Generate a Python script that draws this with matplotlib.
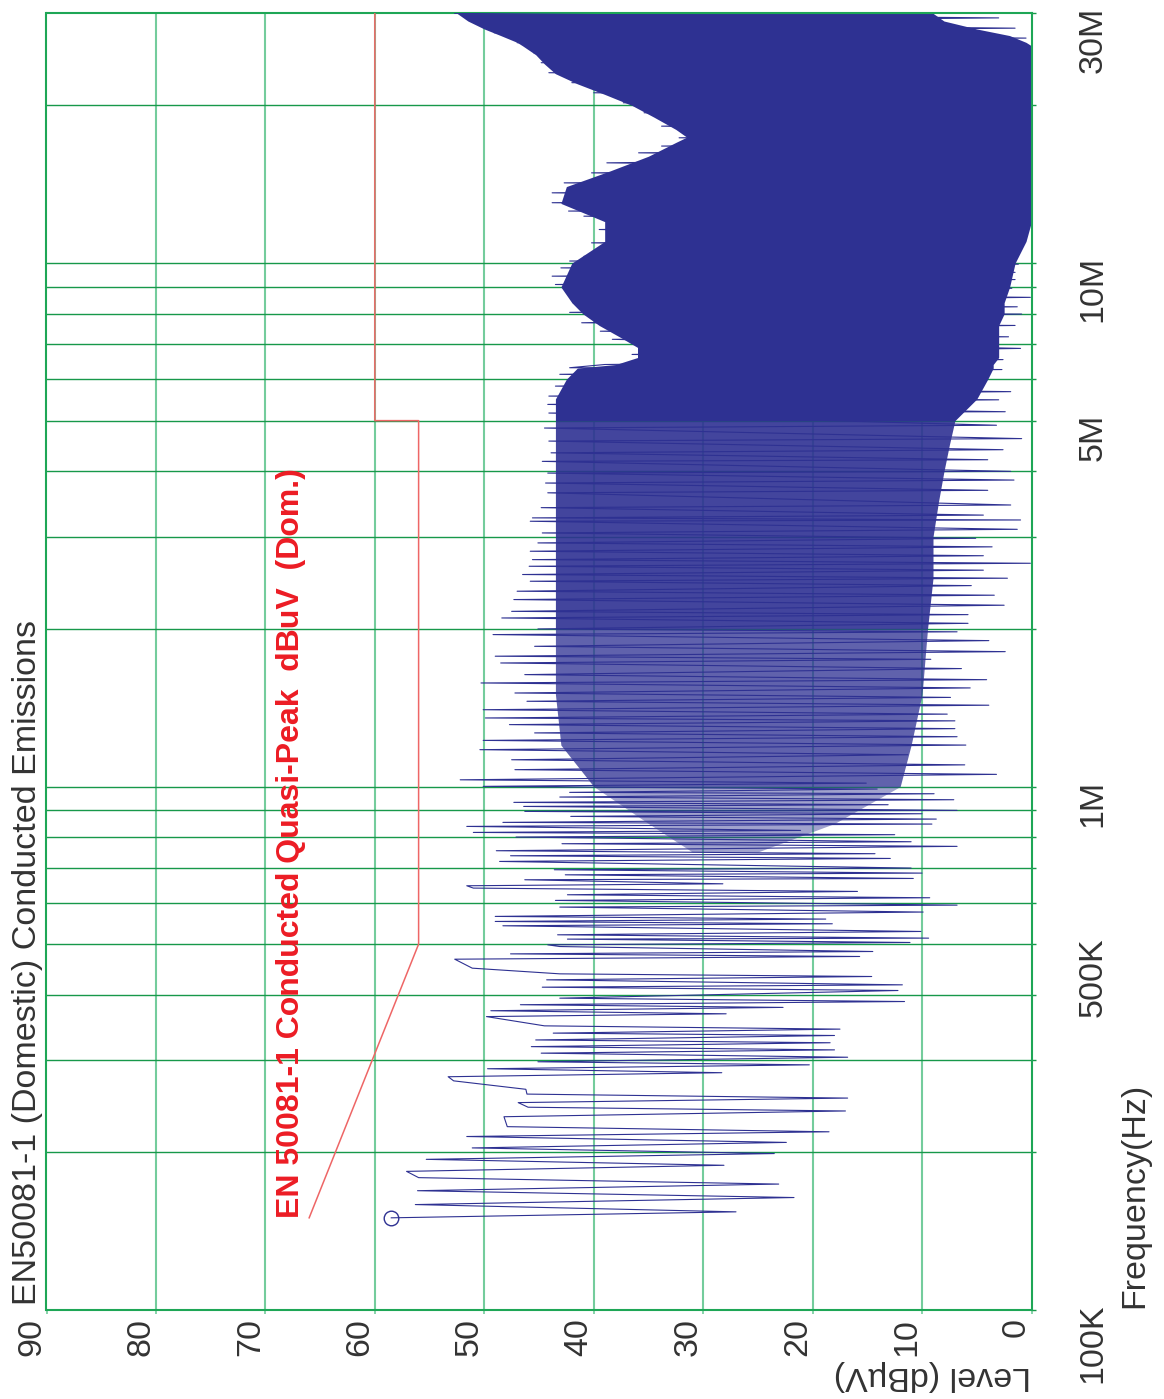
import matplotlib
matplotlib.use("Agg")
import matplotlib.pyplot as plt
import numpy as np
from matplotlib import font_manager
from matplotlib.transforms import ScaledTranslation

# ---------------- data ----------------
# sparse part of the scan (kHz, dBuV) in trace order
scan_khz = [150, 154, 159, 164, 169, 174, 179, 184, 189, 194,
            199, 204, 209, 214.5, 219, 224, 234, 240, 244, 249,
            254, 258.5, 264, 274, 279, 284, 289, 294, 298, 304,
            309.5, 314, 318.5, 324, 328, 334.5, 338, 344, 349, 363.5,
            368, 373, 378.5, 383, 388.4, 394.2, 407.7, 413.7, 418, 427.3,
            433.6, 438.7, 449.8, 467.9, 473.5, 479, 484, 494.7, 498.4, 503.6,
            511.1, 513.3, 520.9, 528.6, 542, 546.8, 552.4, 558.2, 564.8, 575.7,
            588.4, 593.5, 606, 613.1, 621.2, 630.4, 639.7, 646.3, 651.9, 663.6,
            667.4, 678.2, 683.3, 693.5, 698.6, 719.3, 728.8, 737.5, 744.2, 754,
            768.6, 777.6, 784.4, 800.7, 809.1, 817.2, 824.4, 839.1, 847.8, 854.1,
            866.6, 876.9, 887.2, 896.4, 900.4, 916.2, 923.1, 932.7, 943.6, 954.8,
            968.8, 974.6, 989, 1000.7]
scan_db = [58.5, 27.0, 56.3, 21.7, 56.1, 23.1, 56.0, 57.1, 28.1, 55.3,
           23.5, 51.1, 22.4, 51.6, 18.5, 47.9, 48.2, 17.0, 46.0, 46.9,
           16.8, 46.1, 46.2, 52.8, 53.3, 28.3, 49.7, 20.3, 45.1, 16.8,
           44.8, 18.0, 45.7, 18.4, 45.3, 18.0, 43.7, 17.5, 44.5, 49.8,
           27.9, 49.4, 22.7, 46.7, 11.6, 43.1, 12.2, 44.7, 11.8, 44.3,
           14.6, 43.1, 51.1, 52.7, 15.7, 47.6, 14.5, 43.1, 44.2, 11.1,
           42.4, 9.4, 43.3, 10.1, 48.3, 18.2, 49.0, 18.8, 49.0, 9.9,
           43.1, 6.8, 43.5, 9.3, 42.4, 15.9, 51.0, 51.6, 28.2, 46.3,
           10.8, 42.6, 10.0, 43.6, 11.0, 48.6, 12.9, 47.6, 14.3, 48.9,
           6.8, 42.9, 11.0, 47.1, 12.5, 51.0, 21.1, 51.6, 9.1, 48.3,
           8.7, 42.1, 10.0, 46.3, 6.8, 46.4, 13.1, 47.3, 7.1, 43.1,
           8.9, 42.2, 14.1, 50.1]

# dense part of the scan: alternating peaks / troughs (MHz, dBuV)
dense_mhz = [1.015, 1.030, 1.055, 1.077, 1.10, 1.125, 1.15, 1.176, 1.20, 1.225,
             1.245, 1.266, 1.29, 1.313, 1.335, 1.352, 1.375, 1.402, 1.43, 1.455,
             1.48, 1.509, 1.543, 1.577, 1.60, 1.636, 1.68, 1.722, 1.75, 1.774,
             1.81, 1.853, 1.90, 1.951, 1.975, 2.00, 2.05, 2.099, 2.13, 2.161,
             2.22, 2.276, 2.32, 2.361, 2.42, 2.467, 2.50, 2.541, 2.59, 2.635,
             2.67, 2.713, 2.76, 2.815, 2.87, 2.92, 2.98, 3.051, 3.10, 3.212,
             3.23, 3.26, 3.30, 3.41, 3.45, 3.64, 3.68, 3.80, 3.85, 3.97,
             4.00, 4.18, 4.21, 4.34, 4.40, 4.57, 4.62, 4.84, 4.90, 5.17,
             5.20, 5.37, 5.48, 5.57, 5.68, 5.82, 5.98, 6.13, 6.26, 6.31,
             6.40, 6.54, 6.69, 6.87, 7.15, 7.23, 7.41, 7.60, 7.69, 7.99,
             8.05, 8.25, 8.40, 8.60, 8.78, 8.95, 9.10, 9.30, 9.44, 9.60,
             9.79, 9.95, 10.09, 10.2, 10.3, 10.6, 10.93, 11.2, 11.59, 11.9,
             12.29, 12.4, 12.57, 12.8, 13.04, 13.3, 13.62, 13.9, 14.23, 14.5,
             14.87, 15.2, 15.54, 15.9, 16.24, 16.5, 16.73, 17.0, 17.35, 17.8,
             18.26, 18.8, 19.37, 19.8, 20.24, 20.7, 21.15, 21.6, 22.11, 22.6,
             23.1, 23.6, 24.14, 24.7, 25.22, 25.8, 26.36, 26.9, 27.54, 28.1,
             28.78, 29.4, 29.99]
dense_db = [15.1, 52.2, 3.2, 47.2, 6.1, 47.5, 11.3, 50.4, 6.0, 50.1,
            6.8, 45.4, 7.0, 47.7, 7.0, 49.9, 7.7, 50.1, 3.9, 46.1,
            7.4, 47.2, 5.6, 50.3, 4.1, 46.3, 6.4, 48.5, 9.2, 49.0,
            2.4, 45.4, 3.9, 49.2, 6.8, 45.1, 5.8, 48.4, 5.8, 47.5,
            2.5, 47.3, 3.4, 47.0, 5.5, 45.8, 2.2, 46.5, 4.4, 45.9,
            0.1, 45.6, 4.4, 45.8, 3.6, 45.1, 5.1, 44.7, 1.3, 45.8,
            1.0, 45.6, 4.4, 44.8, 1.9, 44.2, 4.0, 44.4, 1.6, 44.2,
            1.9, 44.7, 4.0, 43.9, 2.6, 44.1, 0.9, 44.5, 3.2, 44.1,
            2.4, 44.2, 3.0, 44.1, 1.9, 43.5, 4.3, 43.1, 2.7, 42.2,
            39.0, 2.6, 36.5, 1.0, 38.3, 2.1, 39.4, 1.5, 41.1, 0.9,
            42.2, 1.3, 41.9, 0.1, 42.5, 1.8, 43.5, 1.5, 43.8, 1.5,
            43.0, 1.2, 42.2, 2.0, 40.9, 1.5, 40.2, 1.0, 39.5, 0.5,
            40.9, 0.3, 42.3, 0.2, 43.8, 0.2, 43.8, 0.2, 42.7, 0.2,
            40.2, 0.2, 38.8, 0.2, 35.9, 0.2, 33.8, 0.2, 32.2, 0.2,
            33.8, 0.2, 35.4, 0.2, 37.3, 0.2, 40.0, 0.2, 42.0, 0.2,
            44.1, 0.2, 44.8, 0.2, 45.5, 0.2, 47.0, 0.5, 49.1, 1.5,
            50.9, 3.0, 52.7]

# solid core of the dense band (MHz, dBuV)
core_mhz = [0.75, 0.85, 1.0, 1.2, 1.5, 2.0, 2.5, 3.0, 3.5, 4.0, 4.5, 5.0,
            5.5, 6.0, 6.3, 6.4, 6.6, 6.9, 7.2, 7.6, 8.0, 8.4,
            9.0, 10.0, 11.0, 12.0, 13.0, 14.0, 15.0, 16.0, 17.0, 17.4,
            18.0, 19.0, 20.0, 21.0, 22.0, 23.0, 24.0, 25.0, 26.0, 26.4,
            27.2, 28.0, 29.0, 30.0]
core_top = [31, 35, 40, 43, 43.5, 43.5, 43.5, 43.5, 43.5, 43.5, 43.5, 43.5,
            43.5, 42.5, 41.5, 38, 36, 36, 37.5, 39.5, 41, 42,
            43, 42, 39, 39, 43, 42.5, 38.5, 35, 32.5, 31.5,
            32.5, 34.5, 36.5, 39, 41.5, 43.5, 44.5, 45.3, 46.5, 47,
            48.5, 50, 51.5, 52.5]
core_bottom = [25, 18, 12, 11, 10, 9.5, 9, 9, 8.5, 8, 7.5, 7,
               5, 4, 3.5, 3.5, 3, 3, 3, 3, 2.5, 2.5,
               2, 1.5, 0.5, 0, 0, 0, 0, 0, 0, 0,
               0, 0, 0, 0, 0, 0, 0, 0, 0, 0.5,
               2, 5, 8, 9]

# EN 50081-1 quasi-peak limit (MHz, dBuV)
limit_mhz = [0.15, 0.5, 5.0, 5.0, 30.0]
limit_db = [66, 56, 56, 60, 60]

level_ticks = [0, 10, 20, 30, 40, 50, 60, 70, 80, 90]
freq_grid_hz = [2e5, 3e5, 4e5, 5e5, 6e5, 7e5, 8e5, 9e5, 1e6,
                2e6, 3e6, 4e6, 5e6, 6e6, 7e6, 8e6, 9e6, 1e7, 2e7]
freq_label_hz = [1e5, 5e5, 1e6, 5e6, 1e7, 3e7]
freq_labels = ["100K", "500K", "1M", "5M", "10M", "30M"]

title = "EN50081-1 (Domestic) Conducted Emissions"
limit_label = "EN 50081-1 Conducted Quasi-Peak  dBuV  (Dom.)"

# ---------------- style ----------------
names = {f.name for f in font_manager.fontManager.ttflist}
FONT = "Liberation Sans Narrow" if "Liberation Sans Narrow" in names else "Liberation Sans"
FS = 27 if FONT.endswith("Narrow") else 24.5
FS_RED = 25 if FONT.endswith("Narrow") else 23
BLUE = "#2e3192"
RED_LINE = "#ee6666"
RED_TEXT = "#ec1c24"
GRID_V = "#74cc9c"
GRID_H = "#17984a"
FRAME = "#1ea656"
TXT = "#333333"

W, H = 1164, 1399
fig = plt.figure(figsize=(W / 100, H / 100), dpi=100)


def fx(px):
    return px / W


def fy(py):
    return 1 - py / H


ax = fig.add_axes([fx(46.5), fy(1310), fx(1031.5) - fx(46.5), fy(13.3) - fy(1310)])
ax.set_yscale("log")
ax.set_xlim(90, 0)
ax.set_ylim(1e5, 3e7)

for lv in level_ticks[1:-1]:
    ax.axvline(lv, color=GRID_V, lw=1.5, zorder=1)
for f in freq_grid_hz:
    ax.axhline(f, color=GRID_H, lw=1.0, zorder=1)

# solid core of the dense band; the band gets denser towards 5 MHz.
core_hz = np.array(core_mhz) * 1e6
bands = [(0.75, 1.0, 0.45), (1.0, 2.0, 0.76), (2.0, 5.0, 0.9), (5.0, 30.0, 1.0)]
for lo_f, hi_f, a in bands:
    i0, i1 = core_mhz.index(lo_f), core_mhz.index(hi_f) + 1
    ax.fill_betweenx(core_hz[i0:i1], core_bottom[i0:i1], core_top[i0:i1],
                     color=BLUE, alpha=a, lw=0, zorder=2)

trace_hz = np.concatenate([np.array(scan_khz) * 1e3, np.array(dense_mhz) * 1e6])
trace_db = np.concatenate([scan_db, dense_db])
ax.plot(trace_db, trace_hz, color=BLUE, lw=0.8, zorder=3)
ax.plot(scan_db[0], scan_khz[0] * 1e3, "o", mfc="none", mec=BLUE, ms=10.5, mew=1.0, zorder=4)

ax.plot(limit_db, np.array(limit_mhz) * 1e6, color=RED_LINE, lw=1.1, zorder=4)

for s in ax.spines.values():
    s.set_color(FRAME)
    s.set_linewidth(1.5)

# level axis (bottom)
ax.set_xticks(level_ticks)
ax.set_xticklabels([str(v) for v in level_ticks])
ax.tick_params(axis="x", length=3, width=1.2, color=GRID_V, pad=2.5,
               labelsize=FS, labelcolor=TXT)
off_x = ScaledTranslation(-15 / 100, 0, fig.dpi_scale_trans)
for lab in ax.get_xticklabels():
    lab.set_rotation(90)
    lab.set_ha("center")
    lab.set_va("top")
    lab.set_family(FONT)
    lab.set_transform(lab.get_transform() + off_x)

# frequency axis (right)
ax.yaxis.tick_right()
ax.yaxis.set_minor_locator(matplotlib.ticker.FixedLocator(freq_grid_hz))
ax.yaxis.set_minor_formatter(matplotlib.ticker.NullFormatter())
ax.set_yticks(freq_label_hz)
ax.set_yticklabels(freq_labels)
ax.tick_params(axis="y", which="both", right=True, left=False, length=3, width=1.0,
               color=GRID_H, pad=30, labelsize=FS, labelcolor=TXT)
off_y = ScaledTranslation(0, 7 / 100, fig.dpi_scale_trans)
for lab in ax.get_yticklabels():
    lab.set_rotation(90)
    lab.set_ha("left")
    lab.set_va("top")
    lab.set_family(FONT)
    lab.set_transform(lab.get_transform() + off_y)

fig.text(fx(12), fy(1305), title, rotation=90, ha="left", va="bottom",
         fontsize=FS, color=TXT, family=FONT)
fig.text(fx(1119), fy(1308), "Frequency(Hz)", rotation=90, ha="left", va="bottom",
         fontsize=FS, color=TXT, family=FONT)
fig.text(fx(1031), fy(1391), "Level (dB\u00b5V)", rotation=180, ha="right", va="bottom",
         fontsize=FS, color=TXT, family=FONT)
fig.text(fx(276), fy(1218), limit_label, rotation=90, ha="left", va="bottom",
         fontsize=FS_RED, fontweight="bold", color=RED_TEXT, family=FONT)

fig.savefig("out.png", dpi=100)
